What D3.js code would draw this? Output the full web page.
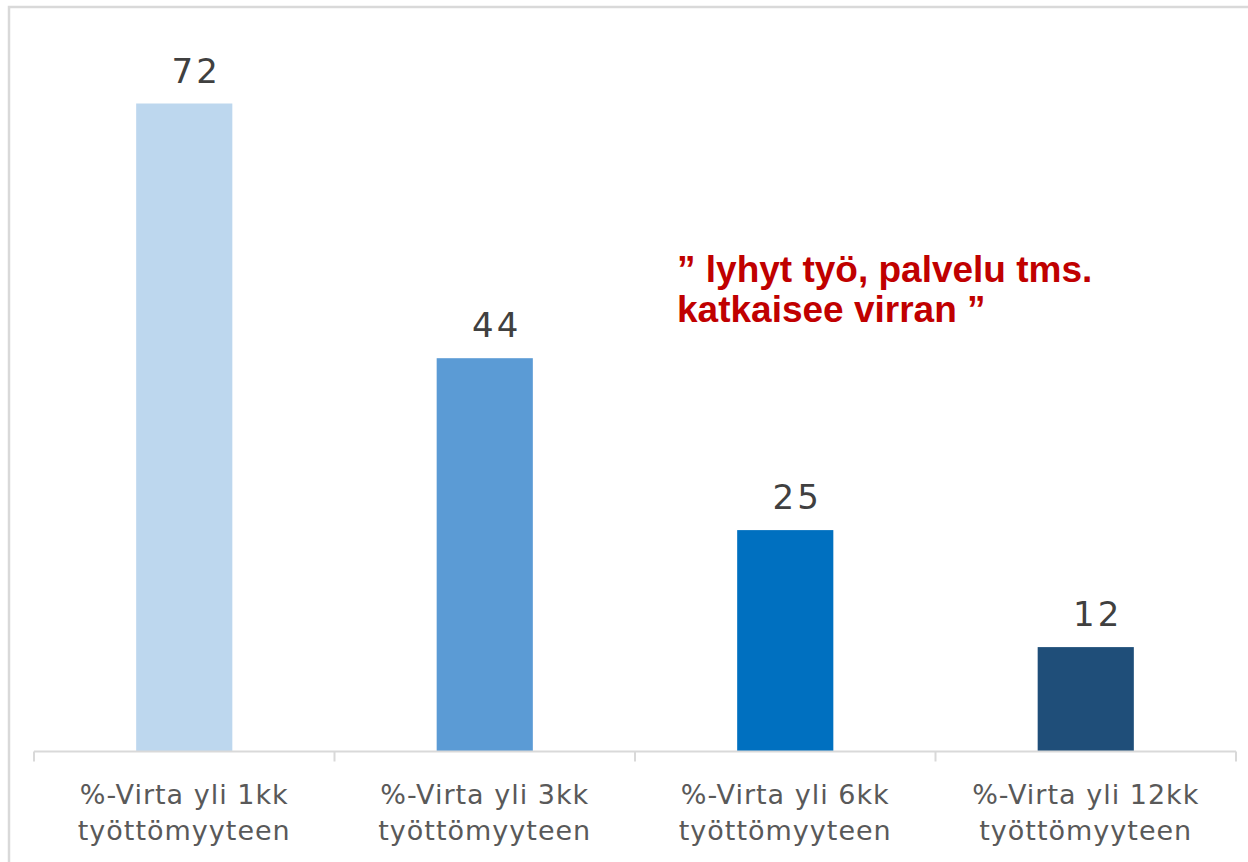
<!DOCTYPE html>
<html>
<head>
<meta charset="utf-8">
<script src="https://cdn.jsdelivr.net/npm/d3@7"></script>
<style>
  html, body { margin: 0; padding: 0; background: #ffffff; }
  svg { display: block; }
</style>
</head>
<body>
<svg id="chart" width="1248" height="862"></svg>
<script>
// ---- data ----
const categories = ["%-Virta yli 1kk työttömyyteen", "%-Virta yli 3kk työttömyyteen", "%-Virta yli 6kk työttömyyteen", "%-Virta yli 12kk työttömyyteen"];
const categoryLines = [["%-Virta yli 1kk", "työttömyyteen"], ["%-Virta yli 3kk", "työttömyyteen"], ["%-Virta yli 6kk", "työttömyyteen"], ["%-Virta yli 12kk", "työttömyyteen"]];
const values = [72.0, 43.7, 24.6, 11.6];
const labels = ["72", "44", "25", "12"];
const barColors = ["#BDD7EE", "#5B9BD5", "#0070C0", "#1F4E79"];
const annotationLines = ["” lyhyt työ, palvelu tms.", "katkaisee virran ”"];

// ---- layout ----
const svg = d3.select("#chart");
const W = 1248, H = 862;
const plot = { left: 34, right: 1236, top: 31.5, bottom: 751.5 };

// outer frame
svg.append("rect")
  .attr("x", 9).attr("y", 7)
  .attr("width", W + 20).attr("height", H + 20)
  .attr("fill", "none").attr("stroke", "#D9D9D9").attr("stroke-width", 2.5);

const x = d3.scaleBand()
  .domain(categories)
  .range([plot.left, plot.right])
  .paddingInner(0.68)
  .paddingOuter(0.34);

const y = d3.scaleLinear().domain([0, 80]).range([plot.bottom, plot.top]);

// bars
svg.append("g").selectAll("rect")
  .data(categories)
  .join("rect")
  .attr("x", d => x(d))
  .attr("y", (d, i) => y(values[i]))
  .attr("width", x.bandwidth())
  .attr("height", (d, i) => y(0) - y(values[i]))
  .attr("fill", (d, i) => barColors[i]);

// value labels
svg.append("g").selectAll("text")
  .data(categories)
  .join("text")
  .attr("x", d => x(d) + x.bandwidth() / 2 + 12)
  .attr("y", (d, i) => y(values[i]) - 21)
  .attr("text-anchor", "middle")
  .attr("font-family", "'DejaVu Sans', sans-serif")
  .attr("font-size", 34)
  .attr("letter-spacing", 3)
  .attr("fill", "#404040")
  .text((d, i) => labels[i]);

// category axis
const axis = svg.append("g");
const step = x.step();
const bounds = d3.range(categories.length + 1).map(i => plot.left + i * step);
axis.append("line")
  .attr("x1", plot.left).attr("x2", plot.right)
  .attr("y1", plot.bottom).attr("y2", plot.bottom)
  .attr("stroke", "#D9D9D9").attr("stroke-width", 2);
axis.selectAll("line.tick")
  .data(bounds)
  .join("line")
  .attr("class", "tick")
  .attr("x1", d => d).attr("x2", d => d)
  .attr("y1", plot.bottom).attr("y2", plot.bottom + 10)
  .attr("stroke", "#D9D9D9").attr("stroke-width", 2);

const catText = axis.selectAll("text.cat")
  .data(categories)
  .join("text")
  .attr("class", "cat")
  .attr("text-anchor", "middle")
  .attr("font-family", "'DejaVu Sans', sans-serif")
  .attr("font-size", 27)
  .attr("letter-spacing", 1)
  .attr("fill", "#595959");
catText.selectAll("tspan")
  .data((d, i) => categoryLines[i].map(t => ({ t, cx: x(d) + x.bandwidth() / 2 })))
  .join("tspan")
  .attr("x", d => d.cx)
  .attr("y", (d, j) => 804 + j * 36)
  .text(d => d.t);

// annotation
svg.append("text")
  .attr("font-family", "'Liberation Sans', Arial, sans-serif")
  .attr("font-weight", "bold")
  .attr("font-size", 37)
  .attr("fill", "#C00000")
  .selectAll("tspan")
  .data(annotationLines)
  .join("tspan")
  .attr("x", 677)
  .attr("y", (d, i) => 282 + i * 40)
  .text(d => d);
</script>
</body>
</html>
